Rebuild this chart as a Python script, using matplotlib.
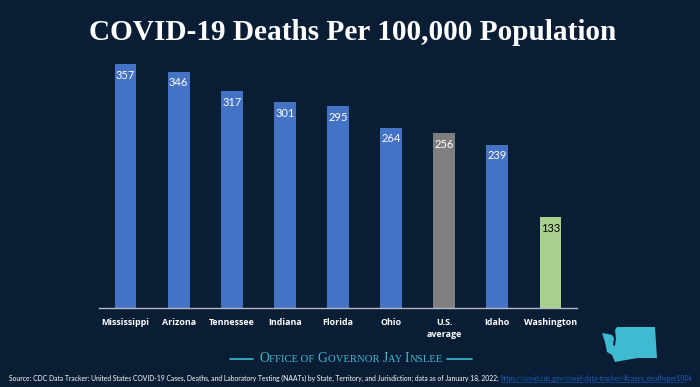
import matplotlib
matplotlib.use('Agg')
import matplotlib.pyplot as plt
from matplotlib.patches import Polygon

# Данные
states = ['Mississippi', 'Arizona', 'Tennessee', 'Indiana', 'Florida',
          'Ohio', 'U.S.\naverage', 'Idaho', 'Washington']
deaths = [357, 346, 317, 301, 295, 264, 256, 239, 133]
bar_colors = ['#4472C4'] * 6 + ['#7F7F7F', '#4472C4', '#A9D18E']
label_colors = ['white'] * 8 + ['black']

BG = '#091D35'
TEAL = '#3FBAD0'
W, H = 700, 387

title = 'COVID-19 Deaths Per 100,000 Population'
source = ('Source: CDC Data Tracker: United States COVID-19 Cases, Deaths, and Laboratory '
          'Testing (NAATs) by State, Territory, and Jurisdiction; data as of January 18, 2022; ')
link = 'https://covid.cdc.gov/covid-data-tracker/#cases_deathsper100k'
office = [('O', 9.8), ('FFICE OF ', 7.7), ('G', 9.8), ('OVERNOR ', 7.7),
          ('J', 9.8), ('AY ', 7.7), ('I', 9.8), ('NSLEE', 7.7)]

# Контур штата, пиксели картинки
wa_outline = [(602, 333), (608, 334), (612, 335), (614, 338), (613, 345), (615, 346),
              (616, 338), (615, 330), (617, 327), (655, 327), (657, 358), (638, 358),
              (626, 360), (615, 362), (612, 355), (607, 352), (605, 342)]

fig = plt.figure(figsize=(7, 3.87), dpi=100, facecolor=BG)

# Слой в пикселях для оформления
bg = fig.add_axes([0, 0, 1, 1])
bg.set_xlim(0, W)
bg.set_ylim(H, 0)
bg.axis('off')

ax = fig.add_axes([99 / W, 1 - 308 / H, 478 / W, 250 / H])
ax.set_facecolor('none')
ax.bar(range(len(states)), deaths, width=0.41, color=bar_colors)
ax.set_xlim(-0.5, len(states) - 0.5)
ax.set_ylim(0, 250 / 244 * 357)
ax.set_yticks([])
for s in ['top', 'left', 'right']:
    ax.spines[s].set_visible(False)
ax.spines['bottom'].set_color('#B4BAC4')
ax.spines['bottom'].set_linewidth(1)
ax.set_xticks(range(len(states)))
ax.set_xticklabels(states, fontsize=6.4, fontweight='bold', color='white',
                   family='Open Sans', linespacing=1.4)
ax.tick_params(axis='x', length=0, pad=7)

for i, v in enumerate(deaths):
    ax.annotate(str(v), (i, v), xytext=(0, -4), textcoords='offset points',
                ha='center', va='top', fontsize=8, color=label_colors[i],
                family='Lato')

bg.text(352.5, 32, title, ha='center', va='center', color='white',
        fontsize=21.1, fontweight='bold', family='Liberation Serif')

# Источник и ссылка
r = fig.canvas.get_renderer()
src = bg.text(9, 378, source, ha='left', va='center', color='white',
              fontsize=4.85, family='Lato')
x_link = bg.transData.inverted().transform(
    (src.get_window_extent(r).x1, 0))[0]
bg.text(x_link, 378, link, ha='left', va='center', color='#1F5FBF',
        fontsize=4.85, family='Lato')
bg.plot([x_link, 686], [381.5, 381.5], color='#1F5FBF', lw=0.4)

# Подпись офиса капителью
x = 259
for part, size in office:
    t = bg.text(x, 362.5, part, ha='left', va='baseline', color=TEAL,
                fontsize=size, family='Liberation Serif')
    x = bg.transData.inverted().transform((t.get_window_extent(r).x1, 0))[0] + 0.4

bg.plot([230, 253], [358.5, 358.5], color=TEAL, lw=1.2, solid_capstyle='round')
bg.plot([447, 472], [358.5, 358.5], color=TEAL, lw=1.2, solid_capstyle='round')

bg.add_patch(Polygon(wa_outline, closed=True, facecolor=TEAL, edgecolor='none'))

fig.savefig('out.png', dpi=100, facecolor=BG)
